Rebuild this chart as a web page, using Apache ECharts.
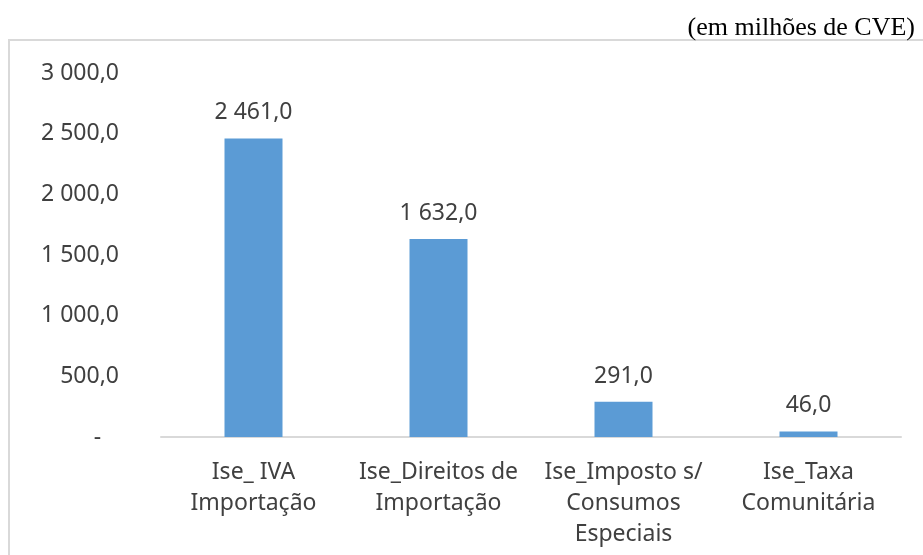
<!DOCTYPE html>
<html>
<head>
<meta charset="utf-8">
<script src="https://cdn.jsdelivr.net/npm/echarts@6/dist/echarts.min.js"></script>
<style>
  html, body { margin: 0; padding: 0; background: #fff; }
  #chart { width: 923px; height: 555px; }
</style>
</head>
<body>
<div id="chart"></div>
<script>
// categorias e valores (em milhões de CVE)
const categorias = ['Ise_ IVA\nImportação', 'Ise_Direitos de\nImportação', 'Ise_Imposto s/\nConsumos\nEspeciais', 'Ise_Taxa\nComunitária'];
const valores = [2461, 1632, 291, 46];
const unidade = '(em milhões de CVE)';

// formato 2 461,0
function fmt(v) {
  const s = v.toFixed(1).split('.');
  return s[0].replace(/\B(?=(\d{3})+(?!\d))/g, ' ') + ',' + s[1];
}

const chart = echarts.init(document.getElementById('chart'), null, { renderer: 'canvas' });
const fonte = '"Noto Sans", sans-serif';

chart.setOption({
  animation: false,
  title: {
    text: unidade,
    right: 3,
    top: 10,
    textStyle: { fontFamily: '"Liberation Serif", serif', fontWeight: 'normal', fontSize: 26, color: '#000' }
  },
  graphic: [{
    type: 'rect',
    shape: { x: 9, y: 40, width: 1000, height: 600 },
    style: { fill: 'none', stroke: '#d9d9d9', lineWidth: 2 },
    silent: true
  }],
  grid: { left: 161, right: 22, top: 73, bottom: 118 },
  xAxis: {
    type: 'category',
    data: categorias,
    axisLine: { lineStyle: { color: '#d9d9d9', width: 2 } },
    axisTick: { show: false },
    axisLabel: {
      interval: 0,
      margin: 20,
      fontFamily: fonte,
      fontSize: 23,
      lineHeight: 31,
      color: '#404040'
    }
  },
  yAxis: {
    type: 'value',
    min: 0,
    max: 3000,
    interval: 500,
    splitLine: { show: false },
    axisLine: { show: false },
    axisTick: { show: false },
    axisLabel: {
      margin: 42,
      fontFamily: fonte,
      fontSize: 23,
      color: '#404040',
      formatter: v => v === 0 ? '-   ' : fmt(v)
    }
  },
  series: [{
    type: 'bar',
    data: valores,
    barWidth: 58,
    itemStyle: { color: '#5b9bd5' },
    label: {
      show: true,
      position: 'top',
      distance: 14,
      fontFamily: fonte,
      fontSize: 23,
      color: '#404040',
      formatter: p => fmt(p.value)
    }
  }]
});
</script>
</body>
</html>
